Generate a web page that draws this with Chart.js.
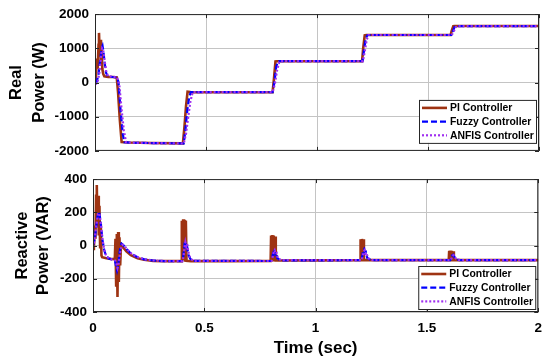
<!DOCTYPE html>
<html>
<head>
<meta charset="utf-8">
<script src="https://cdn.jsdelivr.net/npm/chart.js@4.4.1/dist/chart.umd.min.js"></script>
<style>
  html, body { margin: 0; padding: 0; background: #fff; }
  #wrap { position: relative; width: 550px; height: 364px; }
  canvas { position: absolute; left: 0; }
</style>
</head>
<body>
<div id="wrap">
  <canvas id="chart-real" width="550" height="165" style="top:0"></canvas>
  <canvas id="chart-reactive" width="550" height="199" style="top:165px"></canvas>
</div>
<script>
// Series names and tick labels
const seriesNames = ['PI Controller', 'Fuzzy Controller', 'ANFIS Controller'];
const timeTicks = [0, 0.5, 1, 1.5, 2];
const realTicks = [-2000, -1000, 0, 1000, 2000];
const reactiveTicks = [-400, -200, 0, 200, 400];

// Real power (W), [time sec, value]
const realPI = [[0,0],[0.004,150],[0.008,700],[0.012,400],[0.016,1100],[0.018,1450],[0.021,800],[0.024,1250],[0.027,600],[0.03,950],[0.033,400],[0.037,250],[0.042,180],[0.06,165],[0.08,160],[0.098,150],[0.104,-300],[0.112,-1100],[0.12,-1740],[0.15,-1755],[0.25,-1770],[0.396,-1780],[0.403,-1300],[0.41,-700],[0.417,-270],[0.43,-280],[0.6,-283],[0.8,-283],[0.806,100],[0.813,615],[0.82,623],[1.0,623],[1.203,623],[1.208,1000],[1.215,1380],[1.222,1389],[1.4,1389],[1.602,1389],[1.607,1520],[1.614,1645],[1.62,1651],[2,1651]];
const realFuzzy = [[0,0],[0.008,30],[0.016,250],[0.024,700],[0.03,1000],[0.034,1070],[0.038,900],[0.044,550],[0.05,280],[0.058,175],[0.08,160],[0.1,150],[0.106,0],[0.115,-800],[0.125,-1500],[0.132,-1745],[0.16,-1760],[0.3,-1775],[0.4,-1780],[0.407,-1400],[0.416,-800],[0.425,-400],[0.432,-283],[0.8,-283],[0.808,0],[0.816,450],[0.824,615],[0.83,623],[1.205,623],[1.212,950],[1.22,1300],[1.228,1389],[1.605,1389],[1.612,1500],[1.62,1620],[1.627,1651],[2,1651]];
const realANFIS = [[0,0],[0.006,-30],[0.012,20],[0.02,300],[0.027,750],[0.032,1000],[0.037,950],[0.043,650],[0.05,350],[0.058,190],[0.08,165],[0.1,150],[0.11,-100],[0.12,-800],[0.13,-1400],[0.14,-1750],[0.17,-1762],[0.3,-1775],[0.4,-1780],[0.41,-1500],[0.42,-1000],[0.43,-550],[0.44,-283],[0.8,-283],[0.81,-50],[0.82,350],[0.83,600],[0.836,623],[1.207,623],[1.215,900],[1.224,1250],[1.232,1389],[1.607,1389],[1.615,1480],[1.624,1610],[1.632,1651],[2,1651]];

// Reactive power (VAR), [time sec, value]
const reactivePI = [[0,-20],[0.004,-10],[0.008,120],[0.011,40],[0.014,300],[0.017,365],[0.02,110],[0.023,300],[0.026,60],[0.029,240],[0.032,-10],[0.035,130],[0.038,-60],[0.041,-70],[0.06,-76],[0.08,-80],[0.098,-82],[0.101,40],[0.104,-240],[0.107,70],[0.11,-310],[0.113,82],[0.116,-220],[0.119,50],[0.122,-120],[0.126,10],[0.135,-10],[0.15,-35],[0.17,-58],[0.2,-76],[0.23,-86],[0.27,-92],[0.32,-94],[0.397,-94],[0.399,150],[0.402,-90],[0.405,158],[0.408,-85],[0.411,155],[0.414,-90],[0.417,150],[0.42,-92],[0.44,-94],[0.6,-94],[0.798,-93],[0.8,60],[0.803,-90],[0.806,63],[0.809,-88],[0.812,60],[0.815,-90],[0.818,55],[0.821,-90],[0.84,-90],[1.0,-89],[1.2,-88],[1.202,38],[1.205,-88],[1.208,40],[1.211,-88],[1.214,38],[1.217,-88],[1.22,-88],[1.4,-88],[1.598,-88],[1.6,-32],[1.603,-88],[1.606,-30],[1.609,-88],[1.612,-32],[1.615,-88],[1.618,-35],[1.621,-88],[2,-88]];
const reactiveFuzzy = [[0,0],[0.008,40],[0.015,120],[0.021,180],[0.026,205],[0.03,185],[0.034,140],[0.038,90],[0.043,30],[0.05,-25],[0.058,-60],[0.07,-78],[0.085,-84],[0.098,-88],[0.103,-120],[0.108,-150],[0.113,-120],[0.118,-55],[0.123,-5],[0.128,12],[0.135,5],[0.15,-20],[0.17,-48],[0.2,-70],[0.23,-83],[0.27,-90],[0.32,-94],[0.4,-94],[0.405,-70],[0.409,-20],[0.413,30],[0.417,0],[0.421,15],[0.425,-30],[0.43,-60],[0.437,-80],[0.45,-92],[0.8,-93],[0.806,-70],[0.81,-35],[0.814,-22],[0.818,-50],[0.822,-40],[0.828,-75],[0.84,-88],[0.86,-90],[1.205,-88],[1.21,-60],[1.214,-30],[1.218,-22],[1.222,-45],[1.226,-40],[1.232,-75],[1.25,-88],[1.605,-88],[1.61,-70],[1.614,-58],[1.618,-55],[1.622,-65],[1.628,-80],[1.645,-88],[2,-88]];
const reactiveANFIS = [[0,-10],[0.006,20],[0.012,90],[0.018,150],[0.023,190],[0.028,195],[0.032,165],[0.036,120],[0.04,70],[0.046,10],[0.053,-40],[0.06,-65],[0.075,-80],[0.09,-85],[0.1,-90],[0.105,-110],[0.11,-135],[0.115,-110],[0.12,-60],[0.126,-15],[0.132,5],[0.14,0],[0.155,-25],[0.175,-52],[0.205,-72],[0.235,-84],[0.275,-90],[0.33,-94],[0.402,-94],[0.407,-65],[0.411,-15],[0.415,20],[0.419,-5],[0.423,10],[0.428,-35],[0.433,-62],[0.44,-82],[0.455,-92],[0.802,-93],[0.808,-65],[0.812,-38],[0.816,-28],[0.82,-50],[0.825,-45],[0.83,-75],[0.845,-88],[1.207,-88],[1.212,-62],[1.216,-35],[1.22,-28],[1.224,-48],[1.228,-42],[1.235,-76],[1.255,-88],[1.607,-88],[1.612,-72],[1.616,-60],[1.62,-58],[1.625,-68],[1.632,-82],[1.65,-88],[2,-88]];

const FONT = "'Liberation Sans', Arial, Helvetica, sans-serif";
const styles = [
  { borderColor: '#9e3312', borderWidth: 2.6, borderDash: [], order: 3 },
  { borderColor: '#0000ff', borderWidth: 2.2, borderDash: [6, 3], order: 2 },
  { borderColor: '#a030f0', borderWidth: 2.2, borderDash: [2, 2], order: 1 }
];

const toXY = arr => arr.map(p => ({ x: p[0], y: p[1] }));

// Box round the axes, MATLAB-like inner ticks and the legend box
const framePlugin = {
  id: 'frame',
  afterDatasetsDraw(chart, args, opts) {
    const { ctx, chartArea: a, scales } = chart;
    ctx.save();
    ctx.strokeStyle = '#262626';
    ctx.lineWidth = 1;
    ctx.setLineDash([]);
    ctx.strokeRect(a.left + 0.5, a.top + 0.5, a.right - a.left - 1, a.bottom - a.top - 1);
    const tl = 4;
    ctx.beginPath();
    scales.x.ticks.forEach(t => {
      const px = Math.round(scales.x.getPixelForValue(t.value)) + 0.5;
      ctx.moveTo(px, a.bottom); ctx.lineTo(px, a.bottom - tl);
      ctx.moveTo(px, a.top); ctx.lineTo(px, a.top + tl);
    });
    scales.y.ticks.forEach(t => {
      const py = Math.round(scales.y.getPixelForValue(t.value)) + 0.5;
      ctx.moveTo(a.left, py); ctx.lineTo(a.left + tl, py);
      ctx.moveTo(a.right, py); ctx.lineTo(a.right - tl, py);
    });
    ctx.stroke();

    // legend
    const w = 117, h = 43;
    const x0 = a.right - opts.right - w;
    const y0 = a.bottom - opts.bottom - h;
    ctx.fillStyle = '#fff';
    ctx.fillRect(x0, y0, w, h);
    ctx.strokeRect(x0 + 0.5, y0 + 0.5, w, h);
    ctx.font = 'bold 10.4px ' + FONT;
    ctx.textBaseline = 'middle';
    chart.data.datasets.forEach((ds, i) => {
      const cy = y0 + 8 + i * 13.7;
      ctx.beginPath();
      ctx.strokeStyle = ds.borderColor;
      ctx.lineWidth = ds.borderWidth;
      ctx.setLineDash(ds.borderDash);
      ctx.moveTo(x0 + 3, cy);
      ctx.lineTo(x0 + 28, cy);
      ctx.stroke();
      ctx.setLineDash([]);
      ctx.fillStyle = '#000';
      ctx.fillText(ds.label, x0 + 31, cy + 0.5);
    });
    ctx.restore();
  }
};

function makeChart(id, series, yTicks, yTitle, o) {
  return new Chart(document.getElementById(id), {
    type: 'line',
    data: {
      datasets: series.map((s, i) => Object.assign({
        label: seriesNames[i],
        data: toXY(s),
        pointRadius: 0,
        tension: 0,
        fill: false
      }, styles[i]))
    },
    options: {
      responsive: false,
      animation: false,
      devicePixelRatio: 1,
      layout: { padding: o.padding },
      plugins: {
        legend: { display: false },
        tooltip: { enabled: false },
        frame: o.legend
      },
      scales: {
        x: {
          type: 'linear',
          min: 0, max: 2,
          afterBuildTicks: sc => { sc.ticks = timeTicks.map(v => ({ value: v })); },
          afterFit: sc => { sc.height = o.xHeight; },
          border: { display: false },
          grid: { color: '#c4c4c4', drawTicks: false },
          ticks: {
            display: o.showX, padding: 8, color: '#000', maxRotation: 0,
            font: { family: FONT, size: 13.5, weight: 'bold' },
            callback: v => String(v)
          },
          title: {
            display: o.showX, text: 'Time (sec)', color: '#000',
            font: { family: FONT, size: 17, weight: 'bold', lineHeight: 1.2 },
            padding: { top: 0, bottom: 5 }
          }
        },
        y: {
          min: yTicks[0], max: yTicks[yTicks.length - 1],
          afterBuildTicks: sc => { sc.ticks = yTicks.map(v => ({ value: v })); },
          afterFit: sc => { sc.width = o.yWidth; },
          border: { display: false },
          grid: { color: '#c4c4c4', drawTicks: false },
          ticks: {
            padding: 6, color: '#000',
            font: { family: FONT, size: 13.5, weight: 'bold' },
            callback: v => String(v)
          },
          title: {
            display: true, text: yTitle, color: '#000',
            font: { family: FONT, size: 16.5, weight: 'bold', lineHeight: o.titleLH },
            padding: { top: o.titlePad, bottom: 0 }
          }
        }
      }
    },
    plugins: [framePlugin]
  });
}

makeChart('chart-real', [realPI, realFuzzy, realANFIS], realTicks, ['Real', 'Power (W)'], {
  padding: { top: 14, right: 11, bottom: 11, left: 0 },
  xHeight: 0, showX: false, yWidth: 95, titleLH: 1.4, titlePad: 4.5,
  legend: { right: 3, bottom: 8 }
});

makeChart('chart-reactive', [reactivePI, reactiveFuzzy, reactiveANFIS], reactiveTicks, ['Reactive', 'Power (VAR)'], {
  padding: { top: 11, right: 11, bottom: 0, left: 0 },
  xHeight: 52, showX: true, yWidth: 93, titleLH: 1.28, titlePad: 11.4,
  legend: { right: 3, bottom: 3 }
});
</script>
</body>
</html>
